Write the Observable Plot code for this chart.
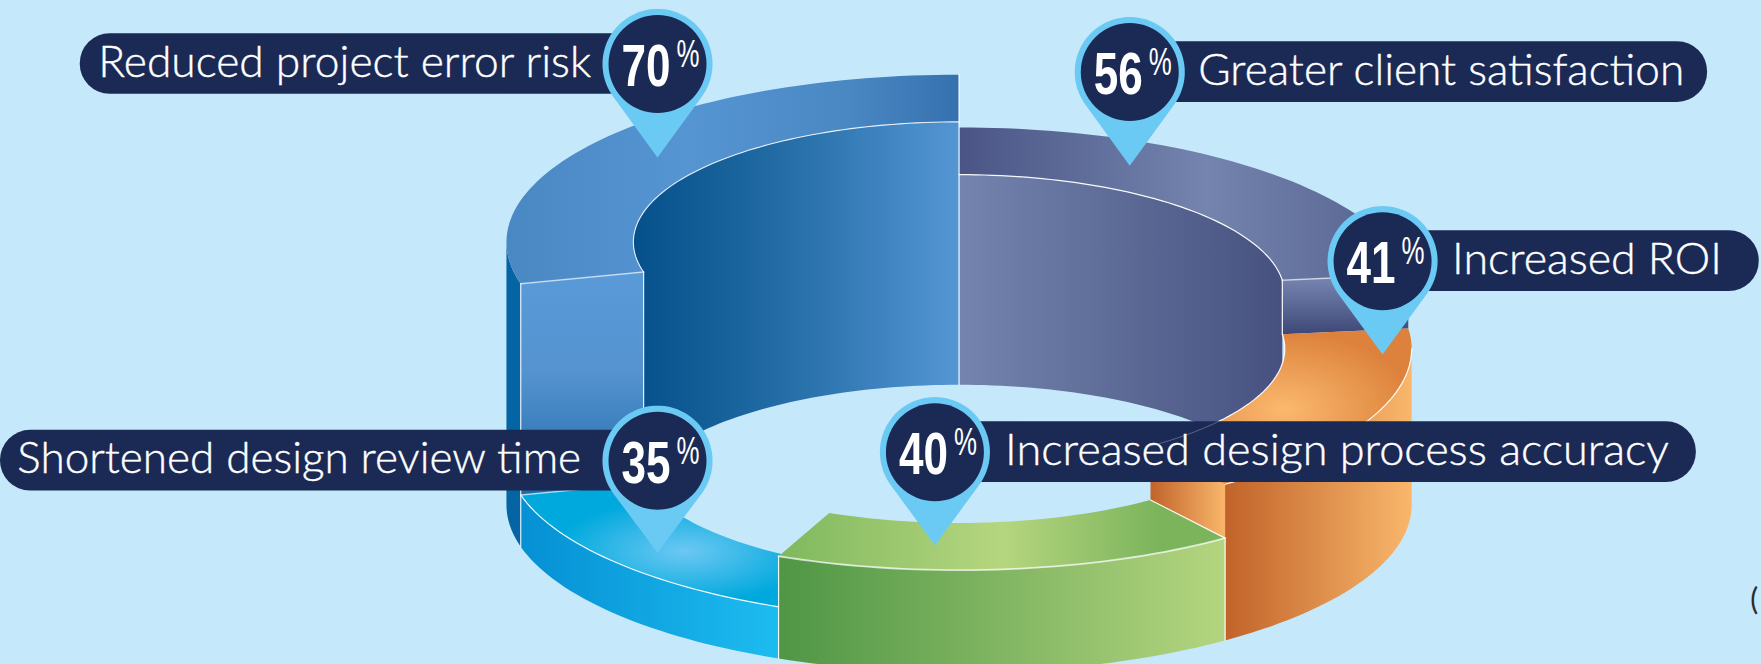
<!DOCTYPE html>
<html>
<head>
<meta charset="utf-8">
<style>html,body{margin:0;padding:0;background:#c5e8fa;overflow:hidden}svg{display:block}</style>
<script src="https://cdn.jsdelivr.net/npm/d3@7"></script>
<script src="https://cdn.jsdelivr.net/npm/@observablehq/plot@0.6"></script>
</head>
<body>
<script>
// ---- data, clockwise from 12 o'clock ----
const labels = ["Greater client satisfaction", "Increased ROI", "Increased design process accuracy", "Shortened design review time", "Reduced project error risk"];
const values = [56, 41, 40, 35, 70];
const keys = ["purple", "orange", "green", "sky", "blue"];

// ---- layout (picture units, mapped to pixels by the x and y scales) ----
const rise = [187, 139, 91, 46, 234];           // height of each sector's top above the base
const pinX = [1005.5, 1230.6, 832, 585, 585];
const pinY = [63.7, 232, 402, 409.6, 56.5];
const tipY = [147, 315, 485, 491.5, 139.7];
const pillFrom = [1005, 1230, 832, 0, 71];
const pillTo = [1520, 1566, 1510, 585, 585];
const textX = [1066.5, 1292.5, 894.5, 15, 87];
const textLen = [486, 270, 664, 564, 493];       // rendered text length, px
const C = {x: 853.5, base: 449, rx: 403, ry: 149, irx: 290, iry: 107};
const seamTurn = 0.3;                            // small turn of the seams off the exact shares

const total = d3.sum(values);
const rad = d => d * Math.PI / 180;
let acc = 90;
const sector = Object.fromEntries(keys.map((k, i) => {
  const a0 = i === 0 ? acc : acc + seamTurn;
  acc -= values[i] / total * 360;
  const a1 = i === keys.length - 1 ? acc : acc + seamTurn;
  return [k, {a0, a1, cy: C.base - rise[i]}];
}));

function arc(cy, rx, ry, a0, a1) {
  const n = Math.max(2, Math.ceil(Math.abs(a1 - a0) / 1.5));
  return d3.range(n + 1).map(i => {
    const a = rad(a0 + (a1 - a0) * i / n);
    return {x: C.x + rx * Math.cos(a), y: cy - ry * Math.sin(a)};
  });
}
const outer = (cy, a0, a1) => arc(cy, C.rx, C.ry, a0, a1);
const inner = (cy, a0, a1) => arc(cy, C.irx, C.iry, a0, a1);
const ip = (cy, a) => inner(cy, a, a)[0];
const op = (cy, a) => outer(cy, a, a)[0];
const ring = (cy, a0, a1) => [...outer(cy, a0, a1), ...inner(cy, a1, a0)];
const outerWall = (cy, a0, a1) => [...outer(cy, a0, a1), ...outer(C.base, a1, a0)];
const endFace = (cy, cyLow, a) => [ip(cy, a), op(cy, a), op(cyLow, a), ip(cyLow, a)];
// the far side of the hole: upper arc along the top, lower arc along the base, joined by a vertical edge
const backWall = (cy, a0, a1) => [...inner(cy, a0, a1), ...inner(C.base, a1 > 180 ? 360 - a1 : a1, a0)];

const {purple, orange, green, sky, blue} = sector;
const blueEnd = blue.a0 + 360;

const faces = [
  ["sliver", outerWall(blue.cy, 180, blueEnd)],
  ["blueWall", [...inner(blue.cy, 90, blueEnd), ...inner(C.base, 360 - blueEnd, 90)]],
  ["purpleWall", backWall(purple.cy, purple.a0, purple.a1)],
  ["blueTop", ring(blue.cy, 90, blueEnd)],
  ["purpleTop", ring(purple.cy, purple.a0, purple.a1)],
  ["blueEnd", endFace(blue.cy, sky.cy, blueEnd)],
  ["purpleEnd", endFace(purple.cy, orange.cy, purple.a1)],
  ["skyWall", outerWall(sky.cy, sky.a0, sky.a1)],
  ["skyTop", ring(sky.cy, sky.a0, sky.a1)],
  ["orangeEnd", endFace(orange.cy, green.cy, orange.a1)],
  ["orangeWall", outerWall(orange.cy, 0, orange.a1)],
  ["orangeTop", ring(orange.cy, orange.a0, orange.a1)],
  ["greenWall", outerWall(green.cy, green.a0, green.a1)],
  ["greenTop", ring(green.cy, green.a0, green.a1)]
];

const edges = [
  [inner(blue.cy, 90, blueEnd), 0.85, 1.1],
  [inner(purple.cy, purple.a0, purple.a1), 0.95, 1.2],
  [inner(orange.cy, purple.a1, -37), 0.95, 1.2],
  [outer(orange.cy, 0, orange.a1), 0.95, 1.2],
  [outer(green.cy, green.a0, green.a1), 0.7, 1.8],
  [outer(sky.cy, sky.a0, sky.a1), 0.95, 1.2],
  [[ip(blue.cy, blueEnd), op(blue.cy, blueEnd)], 0.6, 1.6],
  [[ip(purple.cy, purple.a1), op(purple.cy, purple.a1)], 0.6, 1.6],
  [[ip(sky.cy, sky.a1), op(sky.cy, sky.a1)], 0.6, 1.6],
  [[ip(green.cy, orange.a1), op(green.cy, orange.a1)], 0.9, 1.2],
  // vertical sector seams
  [[op(blue.cy, 90), ip(C.base, 90)], 0.95, 1.2],
  [[ip(blue.cy, blueEnd), ip(sky.cy, blueEnd)], 0.85, 1.2],
  [[op(blue.cy, blueEnd), op(C.base, blueEnd)], 0.85, 1.2],
  [[ip(purple.cy, purple.a1), ip(orange.cy, purple.a1)], 0.95, 1.2],
  [[op(green.cy, green.a1), op(C.base, green.a1)], 0.95, 1.2],
  [[op(green.cy, orange.a1), op(C.base, orange.a1)], 0.95, 1.2]
];

const H = (...stops) => ({kind: "h", stops});
const V = (...stops) => ({kind: "v", stops});
const R = (cx, cy, r, ...stops) => ({kind: "r", cx, cy, r, stops});
const paints = {
  sliver: H([0, "#0464a4"], [1, "#0464a4"]),
  blueWall: H([0, "#04508a"], [0.45, "#236ca5"], [1, "#5496d4"]),
  purpleWall: H([0, "#7484ae"], [1, "#46517f"]),
  blueTop: H([0, "#4a88c4"], [0.4, "#5595d1"], [0.75, "#4a88c4"], [1, "#3571ae"]),
  purpleTop: H([0, "#4a5585"], [0.55, "#7484ae"], [1, "#55618e"]),
  blueEnd: V([0, "#5a9ad8"], [0.45, "#5493d0"], [1, "#1f6aa6"]),
  purpleEnd: V([0, "#7b88b4"], [1, "#3d4878"]),
  skyWall: H([0, "#0590d4"], [1, "#1dbcf0"]),
  skyTop: R(0.53, 0.55, 0.42, [0, "#6cc8f3"], [1, "#00a9dd"]),
  orangeEnd: H([0, "#c1632a"], [1, "#f9b76b"]),
  orangeWall: H([0, "#c1632a"], [1, "#f9b76b"]),
  orangeTop: R(0.51, 0.52, 0.5, [0, "#fbb96e"], [1, "#dd823c"]),
  greenWall: H([0, "#4f9645"], [1, "#b4d57f"]),
  greenTop: H([0, "#7fb85e"], [0.5, "#b5d67f"], [0.85, "#7cb45c"], [1, "#7cb45c"])
};

function gradients() {
  const defs = d3.create("svg:defs");
  for (const [id, p] of Object.entries(paints)) {
    const g = p.kind === "r"
      ? defs.append("radialGradient").attr("cx", p.cx).attr("cy", p.cy).attr("r", p.r)
      : defs.append("linearGradient").attr("x1", 0).attr("y1", 0).attr("x2", p.kind === "h" ? 1 : 0).attr("y2", p.kind === "h" ? 0 : 1);
    g.attr("id", "p-" + id);
    for (const [o, c] of p.stops) g.append("stop").attr("offset", o).attr("stop-color", c);
  }
  return defs.node();
}

function teardrop(cx, cy, r, ty) {
  const d = ty - cy, a = Math.acos(r / d), n = 72;
  const pts = d3.range(n + 1).map(i => {
    const p = a + (2 * Math.PI - 2 * a) * i / n;
    return {x: cx + r * Math.sin(p), y: cy + r * Math.cos(p)};
  });
  pts.push({x: cx, y: ty});
  return pts;
}

const NAVY = "#1b2a55", PIN = "#6bcaf4";
const sans = "Lato, 'Noto Sans', sans-serif";
const digits = "'Liberation Sans', sans-serif";
const ids = d3.range(labels.length);

const marks = [
  gradients,
  ...faces.map(([id, pts]) => Plot.line(pts, {x: "x", y: "y", fill: `url(#p-${id})`, stroke: "none"})),
  ...edges.map(([pts, o, w]) => Plot.line(pts, {x: "x", y: "y", stroke: "#ffffff", strokeOpacity: o, strokeWidth: w})),
  Plot.rect(ids, {x1: i => pillFrom[i], x2: i => pillTo[i], y1: i => pinY[i] - 27, y2: i => pinY[i] + 27, fill: NAVY, rx: 30}),
  Plot.line(inner(orange.cy, -37, orange.a1), {x: "x", y: "y", stroke: "#ffffff", strokeOpacity: 0.28, strokeWidth: 1}),
  ...ids.map(i => Plot.line(teardrop(pinX[i], pinY[i], 49, tipY[i]), {x: "x", y: "y", fill: PIN, stroke: "none"})),
  Plot.dot(ids, {x: i => pinX[i], y: i => pinY[i], r: 49, fill: NAVY, stroke: "none"}),
  Plot.text(ids, {x: i => textX[i], y: i => pinY[i], text: i => labels[i], fill: "#ffffff", stroke: "#ffffff", strokeWidth: 0.4, fontSize: 43, fontWeight: 300, fontFamily: sans, textAnchor: "start", dy: -1, className: "lbl"}),
  Plot.text(ids, {x: i => pinX[i], y: i => pinY[i], text: i => String(values[i]), fill: "#ffffff", fontSize: 60, fontWeight: 700, fontFamily: digits, textAnchor: "start", dx: -36, dy: 3, className: "num"}),
  Plot.text(ids, {x: i => pinX[i], y: i => pinY[i], text: () => "%", fill: "#ffffff", fontSize: 38, fontWeight: 400, fontFamily: digits, textAnchor: "start", dx: 19, dy: -9, className: "pct"}),
  Plot.text(["("], {x: 1558, y: 534, text: d => d, fill: "#2b2b2b", fontSize: 30, fontFamily: sans, textAnchor: "start"})
];

const chart = Plot.plot({
  width: 1761, height: 664,
  marginTop: 0, marginRight: 0, marginBottom: 0, marginLeft: 0,
  style: {background: "#c5e8fa"},
  x: {domain: [0, 1568], range: [0, 1761], axis: null},
  y: {domain: [0, 591], range: [0, 664], axis: null},
  marks
});
document.body.appendChild(chart);
// squeeze the text horizontally to the reference's narrower type
const fit = (cls, len) => d3.select(chart).selectAll(`g.${cls} text`).each(function (_, i) {
  const t = d3.select(this), want = typeof len === "number" ? len : len[i];
  const k = want / this.getComputedTextLength();
  t.attr("transform", `${t.attr("transform") || ""} scale(${k},1)`);
});
fit("lbl", textLen);
fit("num", 49);
fit("pct", 23);
</script>
</body>
</html>
